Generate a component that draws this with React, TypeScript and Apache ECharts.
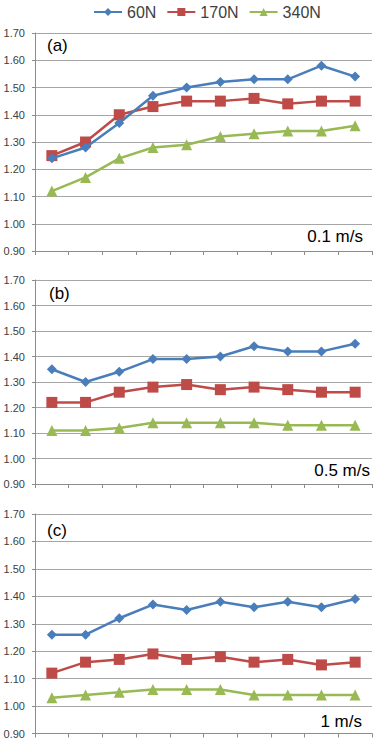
import React, { useEffect, useRef } from "react";
import * as echarts from "echarts";

const categories = ["1", "2", "3", "4", "5", "6", "7", "8", "9", "10"];
const seriesNames = ["60N", "170N", "340N"];
const yTicks = { min: 0.9, max: 1.7, interval: 0.1 };

const a60 = [1.24, 1.28, 1.37, 1.47, 1.5, 1.52, 1.53, 1.53, 1.58, 1.54];
const a170 = [1.25, 1.3, 1.4, 1.43, 1.45, 1.45, 1.46, 1.44, 1.45, 1.45];
const a340 = [1.12, 1.17, 1.24, 1.28, 1.29, 1.32, 1.33, 1.34, 1.34, 1.36];

const b60 = [1.35, 1.3, 1.34, 1.39, 1.39, 1.4, 1.44, 1.42, 1.42, 1.45];
const b170 = [1.22, 1.22, 1.26, 1.28, 1.29, 1.27, 1.28, 1.27, 1.26, 1.26];
const b340 = [1.11, 1.11, 1.12, 1.14, 1.14, 1.14, 1.14, 1.13, 1.13, 1.13];

const c60 = [1.26, 1.26, 1.32, 1.37, 1.35, 1.38, 1.36, 1.38, 1.36, 1.39];
const c170 = [1.12, 1.16, 1.17, 1.19, 1.17, 1.18, 1.16, 1.17, 1.15, 1.16];
const c340 = [1.03, 1.04, 1.05, 1.06, 1.06, 1.06, 1.04, 1.04, 1.04, 1.04];

const panelLabels = ["(a)", "(b)", "(c)"];
const speedLabels = ["0.1 m/s", "0.5 m/s", "1 m/s"];

const colors = ["#4A7EBB", "#BE4B48", "#98B954"];
const symbols = ["diamond", "rect", "triangle"];
const symbolSizes = [10, 11, 11];

export default function App() {
  const ref = useRef<HTMLDivElement>(null);
  useEffect(() => {
    if (!ref.current) return;
    const chart = echarts.init(ref.current, undefined, { renderer: "svg" });
    const font = "'Liberation Sans', Arial, sans-serif";
    const grids = [
      { left: 35, top: 33, width: 337, height: 218 },
      { left: 35, top: 280, width: 337, height: 204 },
      { left: 35, top: 514, width: 337, height: 220 },
    ];
    const panels = [
      [a60, a170, a340],
      [b60, b170, b340],
      [c60, c170, c340],
    ];
    const xAxis = grids.map((_, i) => ({
      type: "category",
      gridIndex: i,
      data: categories,
      boundaryGap: true,
      axisLine: { show: true, lineStyle: { color: "#8c8c8c", width: 1 } },
      axisTick: { show: true, length: 4, lineStyle: { color: "#8c8c8c" } },
      axisLabel: { show: false },
      splitLine: { show: false },
    }));
    const yAxis = grids.map((_, i) => ({
      type: "value",
      gridIndex: i,
      min: yTicks.min,
      max: yTicks.max,
      interval: yTicks.interval,
      axisLine: { show: true, lineStyle: { color: "#8c8c8c", width: 1 } },
      axisTick: { show: true, length: 3, lineStyle: { color: "#8c8c8c" } },
      axisLabel: {
        formatter: (v: number) => v.toFixed(2),
        fontSize: 11,
        fontFamily: font,
        color: "#404040",
        margin: 10,
      },
      splitLine: { show: true, lineStyle: { color: "#a6a6a6", width: 1 } },
    }));
    const series: any[] = [];
    panels.forEach((p, gi) => {
      p.forEach((data, si) => {
        series.push({
          name: seriesNames[si],
          type: "line",
          xAxisIndex: gi,
          yAxisIndex: gi,
          data,
          symbol: symbols[si],
          symbolSize: symbolSizes[si],
          showSymbol: true,
          lineStyle: { color: colors[si], width: 2.5 },
          itemStyle: { color: colors[si] },
          z: 10 - si,
        });
      });
    });
    const textPos = [
      { px: 47, py: 45, sx: 363, sy: 236 },
      { px: 49, py: 293, sx: 370, sy: 470 },
      { px: 47, py: 530, sx: 362, sy: 721 },
    ];
    const graphic: any[] = [];
    textPos.forEach((t, i) => {
      graphic.push({
        type: "text",
        x: t.px,
        y: t.py,
        style: {
          text: panelLabels[i],
          fontSize: 17,
          fontFamily: font,
          fill: "#000",
          verticalAlign: "middle",
          textAlign: "left",
        },
      });
      graphic.push({
        type: "text",
        x: t.sx,
        y: t.sy,
        style: {
          text: speedLabels[i],
          fontSize: 17,
          fontFamily: font,
          fill: "#000",
          verticalAlign: "middle",
          textAlign: "right",
        },
      });
    });
    chart.setOption({
      animation: false,
      legend: {
        top: -1,
        left: 88,
        data: seriesNames,
        itemWidth: 28,
        itemHeight: 10,
        itemGap: 10,
        textStyle: { fontSize: 16, fontFamily: font, color: "#404040" },
      },
      grid: grids,
      xAxis,
      yAxis,
      series,
      graphic,
    });
    return () => chart.dispose();
  }, []);
  return (
    <div
      ref={ref}
      style={{ position: "fixed", left: 0, top: 0, width: 374, height: 739, background: "#fff" }}
    />
  );
}
